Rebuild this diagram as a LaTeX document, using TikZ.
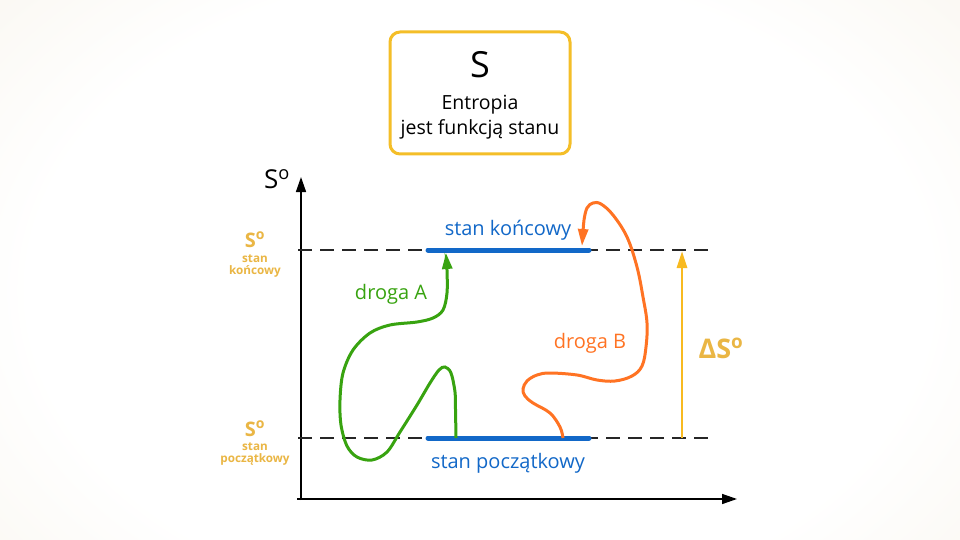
\documentclass[tikz,border=0pt]{standalone}
\usepackage{fontspec}
\setmainfont{Open Sans}
\usetikzlibrary{arrows.meta}
\definecolor{bgcream}{RGB}{242,235,220}
\definecolor{stblue}{RGB}{18,104,200}
\definecolor{pgreen}{RGB}{56,163,16}
\definecolor{porange}{RGB}{255,115,35}
\definecolor{boxgold}{RGB}{244,190,40}
\definecolor{lblgold}{RGB}{234,182,68}
\definecolor{dgold}{RGB}{248,186,32}
\pgfdeclareradialshading{bgshade}{\pgfpoint{0bp}{0bp}}{color(0bp)=(white); color(22bp)=(white); color(50bp)=(bgcream)}
\tikzset{
  axisline/.style={line width=1.5pt, draw=black, -{Triangle[length=15pt,width=10pt]}},
  dashline/.style={line width=1.3pt, draw=black!85, dash pattern=on 14pt off 8pt},
  stateline/.style={line width=5pt, draw=stblue, line cap=round},
  pathA/.style={line width=3pt, draw=pgreen, -{Triangle[length=16pt,width=10pt]}},
  pathB/.style={line width=3pt, draw=porange, -{Triangle[length=17pt,width=10pt]}},
  deltaarrow/.style={line width=2.8pt, draw=dgold, -{Triangle[length=17pt,width=10pt]}},
  titlebox/.style={draw=boxgold, line width=3pt, fill=white, rounded corners=10pt, minimum width=180pt, minimum height=122pt},
  bluetxt/.style={text=stblue, font=\fontsize{20}{24}\selectfont, anchor=base, inner sep=0pt},
  goldbig/.style={text=lblgold, font=\bfseries\fontsize{20}{24}\selectfont, anchor=base, inner sep=0pt},
  goldsmall/.style={text=lblgold, font=\bfseries\fontsize{11.7}{13}\selectfont, anchor=base, inner sep=0pt},
  blacktxt/.style={text=black, anchor=base, inner sep=0pt}
}
\begin{document}
\begin{tikzpicture}[x=1pt,y=-1pt]
\useasboundingbox (0,0) rectangle (960,540);
\begin{scope}
\clip (0,0) rectangle (960,540);
\fill[bgcream] (0,0) rectangle (960,540);
\shade[shading=bgshade] (-30,-70) rectangle (990,650);
\end{scope}

% title box
\node[titlebox] (box) at (480,93) {};
\node[blacktxt, font=\fontsize{36}{40}\selectfont] (tS) at (480,78) {S};
\node[blacktxt, font=\fontsize{19.5}{24}\selectfont] (tE) at (480,110) {Entropia};
\node[blacktxt, font=\fontsize{19.5}{24}\selectfont] (tF) at (480,135) {jest funkcją stanu};

% axes
\coordinate (O) at (301,500);
\coordinate (Ytop) at (301,177);
\coordinate (Xl) at (297,499);
\coordinate (Xr) at (737,499);
\draw[axisline] (O) -- (Ytop);
\draw[axisline] (Xl) -- (Xr);
\node[blacktxt, font=\fontsize{26}{30}\selectfont] (ylab) at (277,189) {S\textsuperscript{o}};

% dashed levels
\coordinate (Dul) at (298,250);
\coordinate (Dur) at (713,250);
\coordinate (Dll) at (298,438);
\coordinate (Dlr) at (713,438);
\draw[dashline] (Dul) -- (Dur);
\draw[dashline] (Dll) -- (Dlr);

% state lines
\coordinate (Kl) at (428,250);
\coordinate (Kr) at (589,250);
\coordinate (Pl) at (428,438);
\coordinate (Pr) at (589,438);
\draw[stateline] (Kl) -- (Kr);
\draw[stateline] (Pl) -- (Pr);
\node[bluetxt] (koniec) at (508,235) {stan końcowy};
\node[bluetxt] (poczatek) at (508,468) {stan początkowy};

% left gold labels
\node[goldbig] (gS1) at (255,247) {S\textsuperscript{o}};
\node[goldsmall] (gs1) at (255,262) {stan};
\node[goldsmall] (gk1) at (255,274) {końcowy};
\node[goldbig] (gS2) at (255,436) {S\textsuperscript{o}};
\node[goldsmall] (gs2) at (255,450) {stan};
\node[goldsmall] (gp2) at (255,462) {początkowy};

% delta arrow
\coordinate (Db) at (682,438);
\coordinate (Dt) at (682,251);
\draw[deltaarrow] (Db) -- (Dt);
\node[goldbig, font=\bfseries\fontsize{27}{30}\selectfont] (dS) at (721,358) {ΔS\textsuperscript{o}};

% path A
\coordinate (A0) at (456,438);
\draw[pathA] plot[smooth, tension=0.55] coordinates {(A0) (455.5,410) (455,392) (451,373) (445,367) (439,370) (430,383) (417,405) (400,432) (387,452) (372,460) (357,457) (347,446) (341,425) (340,400) (343,373) (353,350) (370,333) (390,325) (417,322) (433,318) (443,310) (447,293) (447,270) (446,253)};
\node[text=pgreen, font=\fontsize{20}{24}\selectfont, anchor=base, inner sep=0pt] (labA) at (391,299) {droga A};

% path B
\coordinate (B0) at (563,438);
\draw[pathB] plot[smooth, tension=0.6] coordinates {(B0) (560,427) (550,413) (533,403) (525,396) (523,389) (527,381) (537,375) (550,373) (577,375) (597,380) (615,381) (632,376) (642,366) (646,347) (647,323) (643,297) (637,267) (627,237) (613,215) (601,204) (593,203) (587,208) (584,220) (583,232) (582,246)};
\node[text=porange, font=\fontsize{20}{24}\selectfont, anchor=base, inner sep=0pt] (labB) at (590,348) {droga B};
\end{tikzpicture}
\end{document}
